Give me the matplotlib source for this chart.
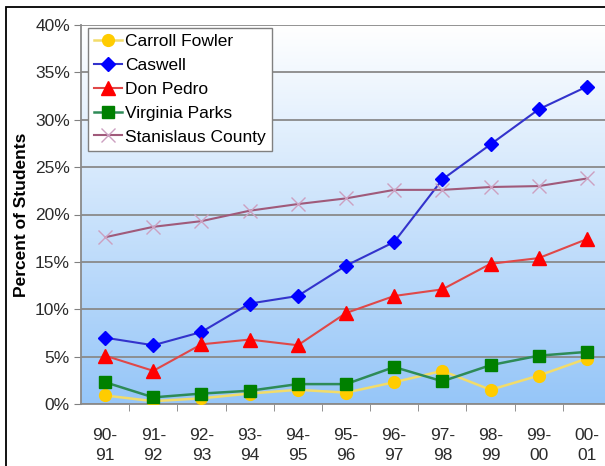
import numpy as np
import matplotlib.pyplot as plt
from matplotlib.patches import Rectangle

plt.rcParams['font.family'] = ['Liberation Sans', 'DejaVu Sans']

years = ['90-\n91', '91-\n92', '92-\n93', '93-\n94', '94-\n95', '95-\n96',
         '96-\n97', '97-\n98', '98-\n99', '99-\n00', '00-\n01']

carroll_fowler = [0.9, 0.3, 0.6, 1.1, 1.5, 1.2, 2.3, 3.5, 1.5, 3.0, 4.8]
caswell = [7.0, 6.2, 7.6, 10.6, 11.4, 14.6, 17.1, 23.7, 27.4, 31.1, 33.5]
don_pedro = [5.1, 3.5, 6.3, 6.8, 6.2, 9.6, 11.4, 12.1, 14.8, 15.4, 17.4]
virginia_parks = [2.3, 0.7, 1.1, 1.4, 2.1, 2.1, 3.9, 2.4, 4.1, 5.1, 5.5]
stanislaus = [17.6, 18.7, 19.3, 20.4, 21.1, 21.7, 22.6, 22.6, 22.9, 23.0, 23.8]

W, H = 605, 466
fig = plt.figure(figsize=(W / 100, H / 100), dpi=100)
# axes box in pixels: left 81, right 611, top 25, bottom 404
ax = fig.add_axes([81 / W, 1 - 404 / H, 530 / W, 379 / H])

# gradient background, white at top to light blue at bottom
grad = np.linspace(0, 1, 256).reshape(-1, 1)
top = np.array([1.0, 1.0, 1.0])
bot = np.array([150, 198, 248]) / 255
img = top * (1 - grad[..., None]) + bot * grad[..., None]
img = img.reshape(256, 1, 3)
ax.imshow(img, extent=[0, 1, 0, 1], transform=ax.transAxes, aspect='auto', zorder=0)

x = np.arange(len(years))

ax.plot(x, carroll_fowler, color='#F2DC6A', lw=1.8, marker='o', ms=8.5,
        mfc='#FFCC00', mec='#FFCC00', label='Carroll Fowler', zorder=3)
ax.plot(x, caswell, color='#3333CC', lw=1.5, marker='D', ms=7.5,
        mfc='#0000FF', mec='#0000FF', label='Caswell', zorder=3)
ax.plot(x, don_pedro, color='#E04848', lw=1.5, marker='^', ms=9.5,
        mfc='#FF0000', mec='#FF0000', label='Don Pedro', zorder=3)
ax.plot(x, virginia_parks, color='#2E8B57', lw=1.8, marker='s', ms=8.5,
        mfc='#008000', mec='#008000', label='Virginia Parks', zorder=3)
ax.plot(x, stanislaus, color='#A05A7A', lw=1.5, marker='x', ms=10, mew=1.0,
        mfc='#CC99BB', mec='#CCA0C0', label='Stanislaus County', zorder=3)

ax.set_xlim(-0.5, len(years) - 0.5)
ax.set_ylim(0, 40)
ax.set_yticks(np.arange(0, 41, 5))
ax.set_yticklabels([f'{v}%' for v in range(0, 41, 5)], fontsize=12.5, color='#2A2A2A')
ax.set_xticks(x)
ax.set_xticklabels(years, fontsize=12.5, color='#2A2A2A', linespacing=1.45)
ax.set_xticks(np.arange(0.5, len(years) - 0.5, 1), minor=True)
ax.tick_params(axis='x', which='major', length=0, pad=17)
ax.tick_params(axis='x', which='minor', length=5, color='#808080')
ax.tick_params(axis='y', length=5, color='#808080', pad=3)

ax.grid(axis='y', color='#8A8A8A', lw=1.3, zorder=1)
ax.set_axisbelow(True)
for s in ['top', 'right']:
    ax.spines[s].set_visible(False)
ax.spines['left'].set_color('#8A8A8A')
ax.spines['bottom'].set_color('#8A8A8A')
ax.spines['left'].set_linewidth(1.3)
ax.spines['bottom'].set_linewidth(1.3)

ax.set_ylabel('Percent of Students', fontsize=12.5, fontweight='bold', labelpad=4)

leg = ax.legend(loc='upper left', bbox_to_anchor=(7 / 530, 1 - 3 / 379), fontsize=12.5,
                frameon=True, fancybox=False, handlelength=1.6, handletextpad=0.2,
                borderpad=0.35, labelspacing=0.5, borderaxespad=0)
leg.get_frame().set_edgecolor('#808080')
leg.get_frame().set_facecolor('white')
leg.get_frame().set_alpha(1)
leg.get_frame().set_linewidth(1.0)

# figure border (left and top visible)
fig.patches.append(Rectangle((6 / W, -0.1), 1.2, 1 - 7 / H + 0.1, transform=fig.transFigure,
                             fill=False, edgecolor='black', lw=1.3))

fig.savefig('out.png', dpi=100)
